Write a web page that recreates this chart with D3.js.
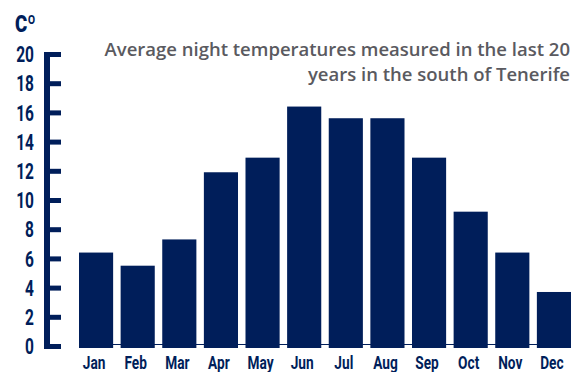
<!DOCTYPE html>
<html>
<head>
<meta charset="utf-8">
<script src="https://cdn.jsdelivr.net/npm/d3@7"></script>
<style>
  body { margin: 0; background: #fff; }
</style>
</head>
<body>
<svg id="svg" width="587" height="372"></svg>
<script>
// night temperatures per month (C)
const months = ['Jan', 'Feb', 'Mar', 'Apr', 'May', 'Jun', 'Jul', 'Aug', 'Sep', 'Oct', 'Nov', 'Dec'];
const temps = [6.4, 5.5, 7.3, 11.9, 12.9, 16.4, 15.6, 15.6, 12.9, 9.2, 6.4, 3.7];
const yTicks = [0, 2, 4, 6, 8, 10, 12, 14, 16, 18, 20];
const titleLines = ['Average night temperatures measured in the last 20', 'years in the south of Tenerife'];

const navy = '#001e5a';
const condFont = 'Roboto, sans-serif';
const svg = d3.select('#svg');

let x = d3.scaleBand()
    .domain(months)
    .range([79, 571])
    .paddingInner(0.18)
    .paddingOuter(0);

let y = d3.scaleLinear()
    .domain([0, 20])
    .range([346, 54]);

// y axis: thick line, ticks pointing right, labels on the left
let yAxis = svg.append('g')
    .attr('transform', 'translate(44,0)')
    .call(d3.axisRight(y).tickValues(yTicks).tickSize(17).tickSizeOuter(0));
yAxis.select('.domain')
    .attr('stroke', navy)
    .attr('stroke-width', 6)
    .attr('d', 'M3,' + y(20) + 'V' + (y(0) + 2));
yAxis.selectAll('.tick line')
    .attr('stroke', navy)
    .attr('stroke-width', 5);
// squeeze glyphs sideways to get a condensed look
yAxis.selectAll('.tick text')
    .attr('x', 0)
    .attr('dy', '0.36em')
    .attr('transform', 'translate(-10,0) scale(0.72,1)')
    .attr('text-anchor', 'end')
    .attr('fill', navy)
    .style('font-family', condFont)
    .style('font-weight', 'bold')
    .style('font-size', '21.5px');

// unit label
svg.append('text')
    .attr('transform', 'translate(15,32) scale(0.78,1)')
    .attr('fill', navy)
    .style('font-family', condFont)
    .style('font-weight', '900')
    .style('font-size', '24px')
    .text('Cº');

// thin baseline
svg.append('line')
    .attr('x1', x('Jan'))
    .attr('x2', x('Dec') + x.bandwidth())
    .attr('y1', 344.5)
    .attr('y2', 344.5)
    .attr('stroke', navy)
    .attr('stroke-width', 1);

// bars
svg.selectAll('rect.bar')
    .data(temps)
    .enter()
    .append('rect')
    .attr('class', 'bar')
    .attr('x', (d, i) => x(months[i]))
    .attr('y', d => y(d))
    .attr('width', x.bandwidth())
    .attr('height', d => y(0) + 2 - y(d))
    .attr('fill', navy);

// month labels
let xAxis = svg.append('g')
    .attr('transform', 'translate(0,348)')
    .call(d3.axisBottom(x).tickSize(0));
xAxis.select('.domain').remove();
xAxis.selectAll('.tick text')
    .attr('y', 0)
    .attr('dy', 0)
    .attr('transform', 'translate(-2,20.5) scale(0.72,1)')
    .attr('fill', navy)
    .style('font-family', condFont)
    .style('font-weight', 'bold')
    .style('font-size', '19px');

// title
svg.append('g')
    .selectAll('text')
    .data(titleLines)
    .enter()
    .append('text')
    .attr('x', 570)
    .attr('y', (d, i) => 56 + i * 25)
    .attr('text-anchor', 'end')
    .attr('fill', '#5a5a60')
    .style('font-family', '"Open Sans", sans-serif')
    .style('font-weight', '600')
    .style('font-size', '18.5px')
    .text(d => d);
</script>
</body>
</html>
